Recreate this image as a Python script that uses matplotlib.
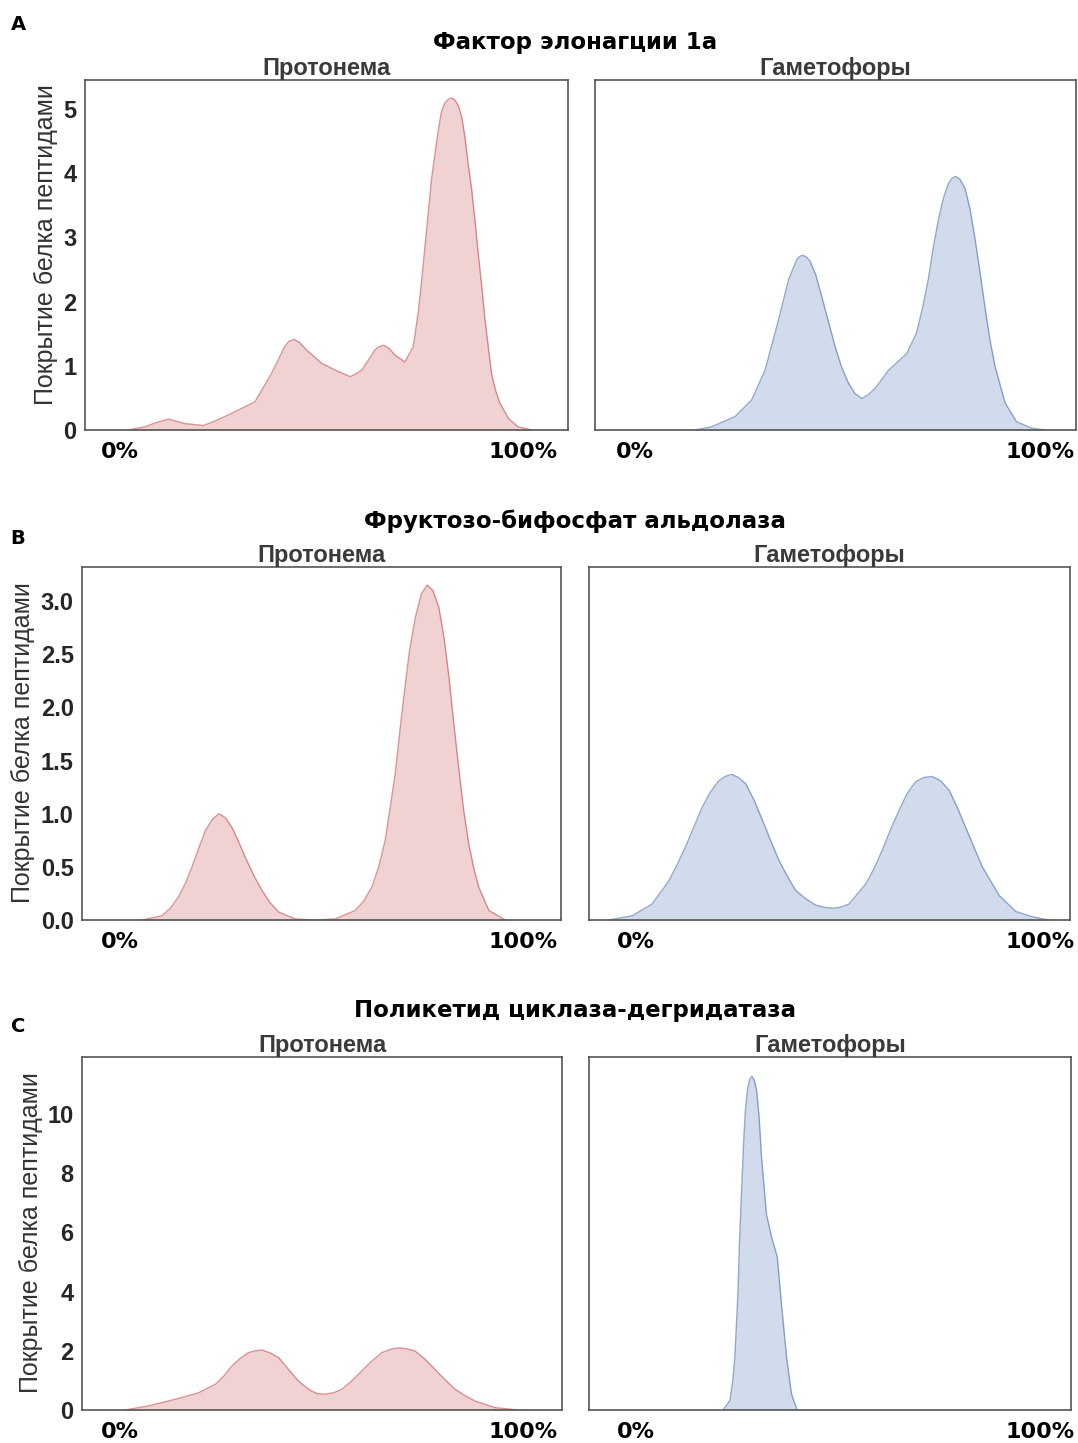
import matplotlib
matplotlib.use("Agg")
import matplotlib.pyplot as plt

# peptide coverage profiles (x in % of protein length)
a_prot_x = [2.1, 6.2, 8.7, 12.0, 16.1, 20.7, 23.6, 27.7, 33.5, 37.6, 40.9, 41.9, 43.3, 44.6,
            45.9, 50.0, 54.2, 57.2, 60.0, 63.3, 64.4, 65.5, 66.8, 68.2, 70.7, 72.8, 74.0,
            74.9, 75.7, 76.5, 77.3, 78.2, 79.0, 79.8, 80.6, 81.5, 82.3, 83.1, 83.9, 84.8,
            85.6, 86.4, 87.3, 88.1, 88.9, 89.8, 90.6, 91.4, 92.2, 93.2, 94.3, 96.4, 98.8,
            102.2]
a_prot_y = [0.0, 0.05, 0.11, 0.17, 0.10, 0.07, 0.14, 0.26, 0.44, 0.88, 1.30, 1.38, 1.41, 1.36,
            1.27, 1.04, 0.91, 0.83, 0.93, 1.25, 1.30, 1.32, 1.27, 1.17, 1.06, 1.30, 1.82,
            2.34, 2.86, 3.37, 3.89, 4.31, 4.67, 4.96, 5.09, 5.15, 5.17, 5.14, 5.06, 4.88,
            4.57, 4.15, 3.74, 3.27, 2.75, 2.23, 1.71, 1.30, 0.88, 0.62, 0.42, 0.18, 0.05,
            0.0]

a_gam_x = [14.8, 18.9, 24.7, 28.8, 32.1, 35.4, 37.9, 39.9, 40.6, 41.3, 42.2, 43.2, 44.6, 46.1,
           47.7, 49.4, 51.0, 52.7, 54.3, 56.0, 57.6, 59.3, 62.6, 67.1, 69.5, 71.0, 72.4,
           73.6, 74.9, 76.2, 77.4, 78.3, 79.2, 80.3, 81.5, 82.7, 84.0, 85.2, 86.4, 87.6,
           88.9, 91.4, 94.2, 97.9, 101.2]
a_gam_y = [0.0, 0.05, 0.21, 0.47, 0.93, 1.71, 2.34, 2.65, 2.70, 2.72, 2.70, 2.63, 2.42, 2.08,
           1.70, 1.30, 0.98, 0.73, 0.57, 0.49, 0.55, 0.65, 0.93, 1.19, 1.51, 1.90, 2.34,
           2.82, 3.27, 3.62, 3.84, 3.92, 3.95, 3.90, 3.76, 3.45, 2.96, 2.45, 1.92, 1.42,
           0.99, 0.42, 0.13, 0.03, 0.0]

b_prot_x = [5.5, 10.4, 12.5, 14.6, 16.3, 17.9, 19.5, 21.2, 23.0, 24.6, 26.2, 27.8, 29.4, 31.1,
            33.2, 35.2, 37.3, 39.4, 43.5, 48.5, 53.4, 58.4, 60.5, 62.5, 64.2, 65.8, 67.0,
            68.3, 69.5, 70.8, 71.9, 73.3, 74.8, 76.2, 77.6, 79.1, 80.4, 81.6, 82.8, 84.0,
            85.2, 86.5, 87.8, 89.0, 91.5, 95.6]
b_prot_y = [0.0, 0.04, 0.11, 0.22, 0.35, 0.50, 0.67, 0.84, 0.95, 1.00, 0.96, 0.87, 0.74, 0.59,
            0.42, 0.28, 0.16, 0.075, 0.01, 0.0, 0.01, 0.09, 0.18, 0.31, 0.50, 0.75, 1.05,
            1.38, 1.80, 2.22, 2.55, 2.85, 3.07, 3.15, 3.10, 2.94, 2.65, 2.29, 1.85, 1.44,
            1.05, 0.72, 0.48, 0.31, 0.09, 0.0]

b_gam_x = [-6.7, -0.9, 4.0, 8.2, 10.2, 12.3, 14.4, 16.4, 18.4, 20.5, 22.1, 23.7, 25.4, 27.2,
           29.2, 31.3, 33.3, 35.4, 37.5, 39.5, 42.0, 44.5, 46.6, 48.6, 50.6, 52.7, 56.9,
           59.0, 61.0, 63.0, 65.1, 67.1, 69.2, 71.2, 73.3, 75.4, 77.5, 79.5, 81.6, 83.7,
           85.7, 89.9, 94.0, 98.1, 102.2]
b_gam_y = [0.0, 0.04, 0.15, 0.37, 0.52, 0.69, 0.88, 1.06, 1.20, 1.31, 1.35, 1.37, 1.34, 1.28,
           1.13, 0.94, 0.75, 0.56, 0.41, 0.28, 0.20, 0.14, 0.12, 0.11, 0.12, 0.15, 0.34,
           0.49, 0.66, 0.85, 1.03, 1.19, 1.30, 1.34, 1.35, 1.31, 1.22, 1.06, 0.87, 0.68,
           0.50, 0.23, 0.08, 0.03, 0.0]

c_prot_x = [1.3, 7.1, 13.7, 19.5, 23.7, 25.8, 27.8, 29.9, 31.9, 33.6, 35.2, 37.3, 39.4, 41.8,
            44.3, 45.9, 47.6, 48.9, 50.5, 53.0, 55.1, 57.5, 60.0, 62.5, 65.0, 67.1, 69.1,
            71.2, 73.3, 75.7, 78.2, 80.7, 83.2, 85.7, 88.2, 93.1, 98.1, 101.4]
c_prot_y = [0.0, 0.14, 0.36, 0.58, 0.87, 1.15, 1.49, 1.75, 1.94, 2.00, 2.03, 1.93, 1.77, 1.38,
            0.98, 0.80, 0.64, 0.56, 0.53, 0.58, 0.70, 0.98, 1.32, 1.65, 1.94, 2.05, 2.10,
            2.07, 1.99, 1.72, 1.37, 1.02, 0.70, 0.48, 0.30, 0.08, 0.01, 0.0]

c_gam_x = [21.6, 23.3, 24.0, 24.5, 25.3, 25.6, 26.0, 26.7, 27.1, 27.6, 28.1, 28.7, 29.3, 29.9,
           30.5, 31.1, 32.3, 33.6, 35.0, 36.1, 37.3, 38.5, 39.9]
c_gam_y = [0.0, 0.33, 1.0, 1.79, 4.04, 5.5, 6.86, 9.11, 10.1, 10.80, 11.15, 11.28, 11.15, 10.80,
           9.9, 8.55, 6.63, 5.84, 5.17, 3.48, 1.79, 0.55, 0.0]

row_titles = ["Фактор элонагции 1а", "Фруктозо-бифосфат альдолаза", "Поликетид циклаза-дегридатаза"]
row_letters = ["A", "B", "C"]
col_titles = ["Протонема", "Гаметофоры"]

W, H = 1078, 1443
fig = plt.figure(figsize=(W / 100, H / 100), dpi=100)

def box(x0, x1, y0, y1):
    return [x0 / W, 1 - y1 / H, (x1 - x0) / W, (y1 - y0) / H]

rows = [
    dict(axes=[(85, 568), (595, 1076)], y=(80, 430), xlim=[(-8.7, 111.2), (-9.9, 108.9)],
         ylim=5.45, yticks=[0, 1, 2, 3, 4, 5], fmt="{:.0f}",
         data=[(a_prot_x, a_prot_y), (a_gam_x, a_gam_y)],
         title_y=42, sub_y=67, letter_y=25, ylab_x=46, ylab_y=245),
    dict(axes=[(82, 561), (589, 1070)], y=(567, 920), xlim=[(-9.4, 109.4), (-11.6, 107.4)],
         ylim=3.32, yticks=[0, 0.5, 1, 1.5, 2, 2.5, 3], fmt="{:.1f}",
         data=[(b_prot_x, b_prot_y), (b_gam_x, b_gam_y)],
         title_y=521, sub_y=553, letter_y=538, ylab_x=23, ylab_y=743),
    dict(axes=[(82, 562), (589, 1071)], y=(1057, 1410), xlim=[(-9.4, 109.7), (-11.6, 107.7)],
         ylim=11.93, yticks=[0, 2, 4, 6, 8, 10], fmt="{:.0f}",
         data=[(c_prot_x, c_prot_y), (c_gam_x, c_gam_y)],
         title_y=1010, sub_y=1044, letter_y=1027, ylab_x=31, ylab_y=1233),
]
colors = ["#C44E52", "#4C72B0"]

for r, row in enumerate(rows):
    y0, y1 = row["y"]
    for c in range(2):
        x0, x1 = row["axes"][c]
        ax = fig.add_axes(box(x0, x1, y0, y1))
        xs, ys = row["data"][c]
        ax.fill_between(xs, ys, 0, color=colors[c], alpha=0.25, lw=0)
        ax.plot(xs, ys, color=colors[c], alpha=0.6, lw=1.0, solid_joinstyle="round")
        ax.set_xlim(*row["xlim"][c])
        ax.set_ylim(0, row["ylim"])
        ax.set_xticks([0, 100])
        ax.set_xticklabels(["0%", "100%"], fontfamily="DejaVu Sans", fontweight="bold",
                           fontsize=16, color="black")
        ax.tick_params(axis="x", length=0, pad=9)
        ax.set_yticks(row["yticks"])
        if c == 0:
            ax.set_yticklabels([row["fmt"].format(v) for v in row["yticks"]],
                               fontfamily="Liberation Sans", fontweight="bold",
                               fontsize=17, color="#262626")
        else:
            ax.set_yticklabels([])
        ax.tick_params(axis="y", length=0, pad=6)
        for s in ax.spines.values():
            s.set_color("#555555")
            s.set_linewidth(1.2)
        ax.set_title(col_titles[c], fontfamily="Liberation Sans", fontweight="bold",
                     fontsize=17, color="#3a3a3a", pad=2)
    fig.text(row["ylab_x"] / W, 1 - row["ylab_y"] / H, "Покрытие белка пептидами", rotation=90,
             ha="center", va="center", fontfamily="Liberation Sans", fontsize=18, color="#333333")
    fig.text(575 / W, 1 - row["title_y"] / H, row_titles[r], ha="center", va="center",
             fontfamily="DejaVu Sans", fontweight="heavy", fontsize=16.5, color="black")
    fig.text(18 / W, 1 - row["letter_y"] / H, row_letters[r], ha="center", va="center",
             fontfamily="DejaVu Sans", fontweight="heavy", fontsize=14, color="black")

fig.savefig("out.png", dpi=100, facecolor="white")
